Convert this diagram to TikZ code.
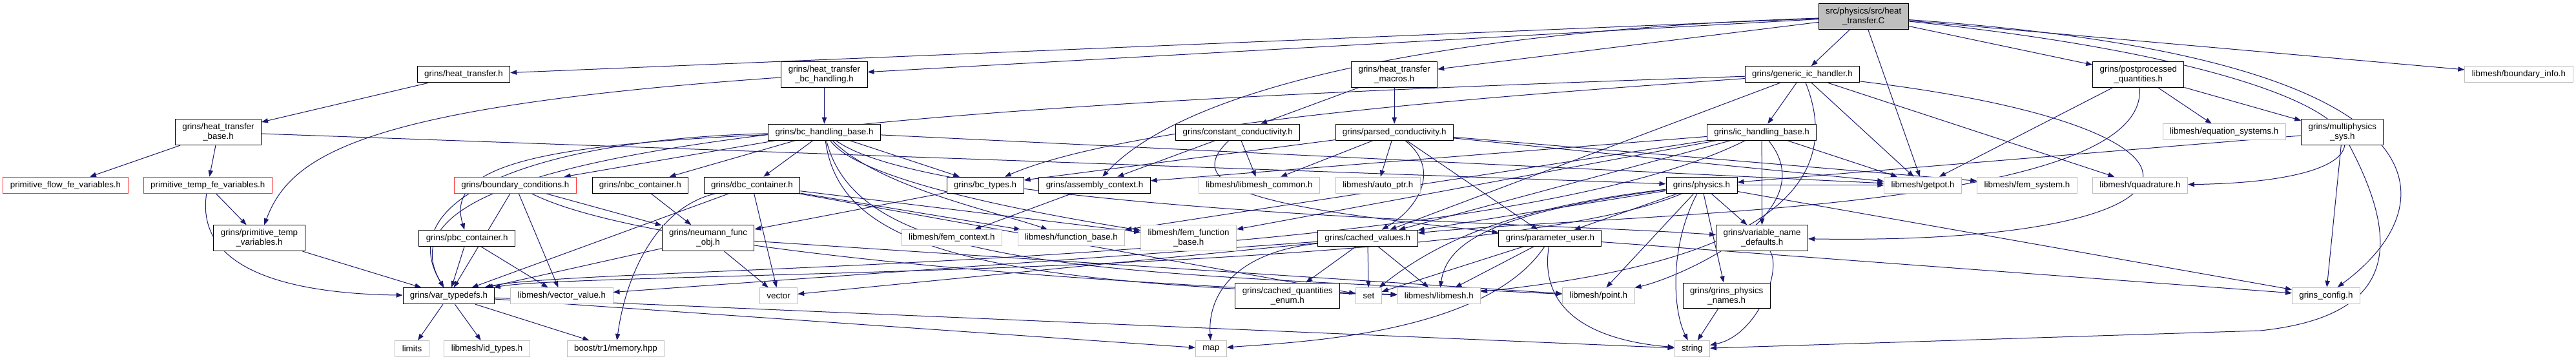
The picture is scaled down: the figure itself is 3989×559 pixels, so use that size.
\documentclass[tikz,border=0pt]{standalone}
\usepackage{fontspec}
\setmainfont{Liberation Sans}
\usetikzlibrary{arrows.meta}
\definecolor{edgeblue}{HTML}{191970}
\definecolor{extgrey}{HTML}{BFBFBF}
\definecolor{cutred}{HTML}{FF3333}
\pgfdeclarelayer{edges}
\pgfsetlayers{edges,main}
\tikzset{
  hdr/.style={
    shape = rectangle,
    draw,
    fill = white,
    line width = 0.75pt,
    inner xsep = 8.2pt,
    inner ysep = 4.7pt,
    minimum height = 18.75pt,
    align = center,
    font = \fontsize{10}{11.25}\selectfont
  },
}
\tikzset{
  syshdr/.style={hdr, draw = extgrey},
  cuthdr/.style={hdr, draw = cutred},
  srcfile/.style={hdr, fill = extgrey},
  inc/.style={
    edgeblue,
    line width = 0.75pt,
    -{Triangle[length=7.5pt,width=5.5pt]}
  },
}

\begin{document}
\begin{tikzpicture}[x=0.75pt,y=-0.75pt]
        \useasboundingbox (0,0) rectangle (3989,559);
        % row 0 and 1
        \node[srcfile] (root) at (2885.7,25.8) {src/physics/src/heat\\\_transfer.C};
        \node[hdr] (ht) at (718,115.5) {grins/heat\_transfer.h};
        \node[hdr] (htbc) at (1276.5,115.3) {grins/heat\_transfer\\\_bc\_handling.h};
        \node[hdr] (htm) at (2159.2,115.3) {grins/heat\_transfer\\\_macros.h};
        \node[hdr] (gic) at (2791,115.3) {grins/generic\_ic\_handler.h};
        \node[hdr] (ppq) at (3311.3,115.3) {grins/postprocessed\\\_quantities.h};
        \node[syshdr] (bi) at (3900.4,115.3) {libmesh/boundary\_info.h};
        % row 2
        \node[hdr] (htb) at (338,204.7) {grins/heat\_transfer\\\_base.h};
        \node[hdr] (bchb) at (1276.5,204.7) {grins/bc\_handling\_base.h};
        \node[hdr] (cc) at (1916.7,204.7) {grins/constant\_conductivity.h};
        \node[hdr] (pc) at (2159.2,204.7) {grins/parsed\_conductivity.h};
        \node[hdr] (ichb) at (2728.1,204.7) {grins/ic\_handling\_base.h};
        \node[syshdr] (eqs) at (3444.2,204.5) {libmesh/equation\_systems.h};
        \node[hdr] (mps) at (3627.3,204.7) {grins/multiphysics\\\_sys.h};
        % row 3
        \node[cuthdr] (pfv) at (101.5,286.7) {primitive\_flow\_fe\_variables.h};
        \node[cuthdr] (ptfv) at (321.8,286.7) {primitive\_temp\_fe\_variables.h};
        \node[cuthdr] (bcond) at (797.8,286.7) {grins/boundary\_conditions.h};
        \node[hdr] (nbc) at (991.3,286.7) {grins/nbc\_container.h};
        \node[hdr] (dbc) at (1164.5,286.7) {grins/dbc\_container.h};
        \node[hdr] (bct) at (1525.6,286.7) {grins/bc\_types.h};
        \node[hdr] (ac) at (1695,286.7) {grins/assembly\_context.h};
        \node[syshdr] (lmc) at (1950,286.7) {libmesh/libmesh\_common.h};
        \node[syshdr] (ap) at (2133.7,286.7) {libmesh/auto\_ptr.h};
        \node[hdr] (phys) at (2635,286.7) {grins/physics.h};
        \node[syshdr] (gp) at (2977.6,286.7) {libmesh/getpot.h};
        \node[syshdr] (fs) at (3139,286.7) {libmesh/fem\_system.h};
        \node[syshdr] (quad) at (3313.9,286.7) {libmesh/quadrature.h};
        % row 4
        \node[hdr] (ptv) at (401.5,368.7) {grins/primitive\_temp\\\_variables.h};
        \node[hdr] (pbc) at (723.2,368.7) {grins/pbc\_container.h};
        \node[hdr] (nfo) at (1096.6,368.7) {grins/neumann\_func\\\_obj.h};
        \node[syshdr] (fc) at (1473.8,368.4) {libmesh/fem\_context.h};
        \node[syshdr] (fb) at (1659,368.4) {libmesh/function\_base.h};
        \node[syshdr] (ffb) at (1840.6,368.7) {libmesh/fem\_function\\\_base.h};
        \node[hdr] (cv) at (2117.8,368.7) {grins/cached\_values.h};
        \node[hdr] (pu) at (2400.4,368.7) {grins/parameter\_user.h};
        \node[hdr] (vnd) at (2728.6,368.7) {grins/variable\_name\\\_defaults.h};
        % row 5
        \node[hdr] (vt) at (695,458.2) {grins/var\_typedefs.h};
        \node[syshdr] (vv) at (869.9,458.2) {libmesh/vector\_value.h};
        \node[syshdr] (vec) at (1205.6,458.2) {vector};
        \node[hdr] (cqe) at (1993.8,458) {grins/cached\_quantities\\\_enum.h};
        \node[syshdr] (set) at (2119.4,458.2) {set};
        \node[syshdr] (lm) at (2228.3,458.2) {libmesh/libmesh.h};
        \node[syshdr] (pt) at (2475.2,458.2) {libmesh/point.h};
        \node[hdr] (gpn) at (2673.7,458) {grins/grins\_physics\\\_names.h};
        \node[syshdr] (gc) at (3601.9,457.7) {grins\_config.h};
        % row 6
        \node[syshdr] (lim) at (638,540) {limits};
        \node[syshdr] (idt) at (754,540) {libmesh/id\_types.h};
        \node[syshdr] (mem) at (953.5,540) {boost/tr1/memory.hpp};
        \node[syshdr] (map) at (1875.2,540) {map};
        \node[syshdr] (str) at (2620.3,540) {string};

        \begin{pgfonlayer}{edges}
        % straight includes
        \foreach \a/\b in {root/ht, root/htbc, root/htm, root/gic, root/gp, root/ppq, root/bi,
            ht/htb, htb/pfv, htb/ptfv, htb/phys, htbc/bchb, htm/cc, htm/pc,
            gic/ichb, gic/gp, gic/cv, gic/quad,
            ichb/ac, ichb/cv, ichb/vnd, ichb/gp, ichb/fb, ichb/ffb,
            ppq/gp, ppq/eqs, ppq/mps, mps/gc, mps/phys,
            cc/ac, cc/lmc, pc/bct, pc/lmc, pc/ap, pc/pu, pc/gp, pc/fs,
            bchb/bcond, bchb/nbc, bchb/dbc, bchb/bct, bchb/gp, bct/nfo,
            bcond/vt, bcond/vv, bcond/nfo, nbc/nfo,
            dbc/vt, dbc/vec, dbc/set, dbc/fb, dbc/ffb, pbc/vt, pbc/vv,
            nfo/vt, nfo/vec, nfo/pt, ptfv/ptv, ptv/vt, ac/fc,
            phys/cv, phys/pu, phys/pt, phys/gpn, phys/vnd, phys/gc, phys/gp,
            pu/gc, pu/set, pu/lm, cv/cqe, cv/set, cv/lm, cv/vv, cv/vec,
            gpn/str, vt/lim, vt/idt, vt/mem, vt/map, vt/str}
            \draw[inc] (\a) -- (\b);
        % routed includes
        \draw[inc] (root) .. controls (2300,45) and (1850,120) .. (ac);
        \draw[inc] (root) .. controls (3700,110) and (3800,280) .. (quad);
        \draw[inc] (root) .. controls (3820,90) and (3790,320) .. (gc);
        \draw[inc] (mps) .. controls (3720,380) and (3710,490) .. (3500,512) -- (str);
        \draw[inc] (htbc) .. controls (560,165) and (450,240) .. (ptv);
        \draw[inc] (ptfv) .. controls (300,430) and (480,455) .. (vt);
        \draw[inc] (bchb) .. controls (850,215) and (600,300) .. (vt);
        \draw[inc] (bchb) .. controls (820,225) and (690,260) .. (pbc);
        \draw[inc] (bchb) .. controls (1360,290) and (1550,330) .. (fb);
        \draw[inc] (bchb) .. controls (1330,280) and (1600,330) .. (ffb);
        \draw[inc] (bchb) .. controls (1300,380) and (1500,440) .. (lm);
        \draw[inc] (bchb) .. controls (1330,420) and (1700,420) .. (pt);
        \draw[inc] (bchb) .. controls (1450,330) and (2400,345) .. (vnd);
        \draw[inc] (gic) .. controls (1300,165) and (560,230) .. (vt);
        \draw[inc] (gic) .. controls (2300,150) and (1750,190) .. (bct);
        \draw[inc] (gic) .. controls (2880,340) and (2600,420) .. (lm);
        \draw[inc] (gic) .. controls (3500,200) and (3450,380) .. (vnd);
        \draw[inc] (cc) .. controls (1815,300) and (2000,325) .. (pu);
        \draw[inc] (bcond) .. controls (1000,390) and (1700,440) .. (lm);
        \draw[inc] (ichb) .. controls (2830,330) and (2600,430) .. (pt);
        \draw[inc] (ichb) .. controls (2300,420) and (900,410) .. (vt);
        \draw[inc] (phys) .. controls (2300,430) and (900,420) .. (vt);
        \draw[inc] (ppq) .. controls (3330,330) and (2500,330) .. (cv);
        \draw[inc] (pc) .. controls (2230,260) and (2200,320) .. (cv);
        \draw[inc] (dbc) .. controls (1020,320) and (970,420) .. (mem);
        \draw[inc] (phys) .. controls (2585,380) and (2590,480) .. (str);
        \draw[inc] (vnd) .. controls (2760,420) and (2720,520) .. (str);
        \draw[inc] (cv) .. controls (1920,390) and (1870,450) .. (map);
        \draw[inc] (pu) .. controls (2300,520) and (2000,530) .. (map);
        \draw[inc] (pu) .. controls (2380,500) and (2500,530) .. (str);
        \draw[inc] (phys) .. controls (2350,320) and (2230,370) .. (set);
        \draw[inc] (phys) .. controls (2300,330) and (2240,380) .. (lm);
        \end{pgfonlayer}
\end{tikzpicture}
\end{document}
